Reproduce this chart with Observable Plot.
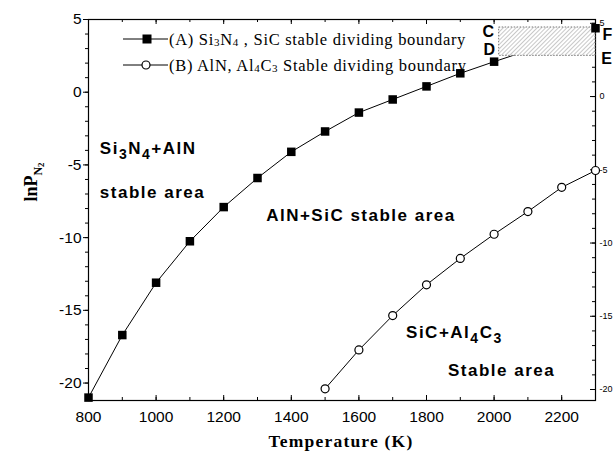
<!DOCTYPE html>
<html><head><meta charset="utf-8">
<script src="https://cdn.jsdelivr.net/npm/d3@7"></script>
<script src="https://cdn.jsdelivr.net/npm/@observablehq/plot@0.6"></script>
<style>body{margin:0;background:#fff}#chart{position:relative;width:614px;height:457px}</style>
</head><body><div id="chart"></div>
<script>
// ---- data ----
const tempA = [800, 900, 1000, 1100, 1200, 1300, 1400, 1500, 1600, 1700, 1800, 1900, 2000, 2300];
const lnA   = [-21, -16.7, -13.1, -10.25, -7.9, -5.9, -4.1, -2.7, -1.4, -0.5, 0.4, 1.3, 2.1, 4.4];
const tempB = [1500, 1600, 1700, 1800, 1900, 2000, 2100, 2200, 2300];
const lnB   = [-19.95, -17.3, -14.95, -12.85, -11.05, -9.4, -7.85, -6.2, -5.05]; // read on right axis
const xTickLabels = [800, 1000, 1200, 1400, 1600, 1800, 2000, 2200];
const yTickLabels = [-20, -15, -10, -5, 0, 5];
const rightTickLabels = [-20, -15, -10, -5, 0, 5];
const boxX = [2015, 2300];
const boxY = [2.5, 4.45];
const cornerLabels = ["C", "D", "E", "F"];
const legendLabels = ["(A)", "(B)"];

// ---- scales ----
const xDomain = [800, 2300];
const yDomain = [-21.2, 5];
const rightDomain = [-20.75, 5.26];
const toLeft = r => yDomain[0] + (r - rightDomain[0]) / (rightDomain[1] - rightDomain[0]) * (yDomain[1] - yDomain[0]);

const W = 614, H = 457, mL = 88, mR = 19, mT = 19, mB = 57;
const pW = W - mL - mR, pH = H - mT - mB;
const SANS = "'Liberation Sans', Arial, sans-serif";
const SERIF = "'Liberation Serif', 'Times New Roman', serif";

const seriesA = tempA.map((t, i) => ({t, v: lnA[i]}));
const seriesB = tempB.map((t, i) => ({t, v: toLeft(lnB[i])}));
const box = [{x1: boxX[0], x2: boxX[1], y1: boxY[0], y2: boxY[1]}];
const corners = [
  {l: cornerLabels[0], x: boxX[0], y: boxY[1], dx: -11, dy: 4},
  {l: cornerLabels[1], x: boxX[0], y: boxY[0], dx: -10, dy: -6},
  {l: cornerLabels[2], x: boxX[1], y: boxY[0], dx: 11, dy: 3},
  {l: cornerLabels[3], x: boxX[1], y: boxY[1], dx: 12, dy: 7}
];

const xAll = d3.range(800, 2301, 100);
const yAll = d3.range(-21, 6, 1);
const rAll = d3.range(-20, 6, 1);

const chart = Plot.plot({
  width: W, height: H,
  marginLeft: mL, marginRight: mR, marginTop: mT, marginBottom: mB,
  x: {domain: xDomain},
  y: {domain: yDomain},
  style: {fontFamily: SANS, background: "white", color: "black"},
  marks: [
    Plot.frame({stroke: "black", strokeWidth: 1.2}),
    Plot.axisX(xTickLabels, {tickSize: 0, tickPadding: 10, fontSize: 15.5, label: null, tickFormat: d => String(d)}),
    Plot.tickX(xAll, {x: d => d, insetTop: pH - 3, stroke: "black"}),
    Plot.tickX(xTickLabels, {x: d => d, insetTop: pH - 5, stroke: "black"}),
    Plot.tickX(xAll, {x: d => d, insetBottom: pH - 3, stroke: "black"}),
    Plot.tickX(xTickLabels, {x: d => d, insetBottom: pH - 5, stroke: "black"}),
    Plot.axisY(yTickLabels, {tickSize: 5, tickPadding: 2, fontSize: 15.5, label: null, tickFormat: d => String(d)}),
    Plot.axisY(yAll, {tickSize: 3, tickFormat: () => "", label: null}),
    Plot.tickY(rAll.map(toLeft), {y: d => d, insetLeft: pW - 3, stroke: "black"}),
    Plot.tickY(rightTickLabels.map(toLeft), {y: d => d, insetLeft: pW - 5, stroke: "black"}),
    Plot.text(rightTickLabels, {y: d => toLeft(d), text: d => String(d), frameAnchor: "right", dx: 4, textAnchor: "start", fontSize: 9}),
    Plot.line(seriesA, {x: "t", y: "v", stroke: "black", strokeWidth: 1}),
    Plot.rect(box, {x1: "x1", x2: "x2", y1: "y1", y2: "y2", fill: "white"}),
    Plot.rect(box, {x1: "x1", x2: "x2", y1: "y1", y2: "y2", fill: "url(#hatch)", stroke: "#777", strokeWidth: 1, strokeDasharray: "1.5,1.5"}),
    Plot.dot(seriesA, {x: "t", y: "v", symbol: "square", r: 4.8, fill: "black", stroke: "none"}),
    Plot.line(seriesB, {x: "t", y: "v", stroke: "black", strokeWidth: 1}),
    Plot.dot(seriesB, {x: "t", y: "v", symbol: "circle", r: 4, fill: "white", stroke: "black", strokeWidth: 1.2}),
    ...corners.map(c => Plot.text([c], {x: "x", y: "y", text: "l", dx: c.dx, dy: c.dy, fontSize: 16, fontWeight: "bold", clip: false}))
  ]
});

const svg = d3.select(chart);
// hatch pattern
const defs = svg.insert("defs", ":first-child");
const pat = defs.append("pattern").attr("id", "hatch").attr("patternUnits", "userSpaceOnUse")
  .attr("width", 3).attr("height", 3).attr("patternTransform", "rotate(45)");
pat.append("line").attr("x1", 0).attr("y1", 0).attr("x2", 0).attr("y2", 3).attr("stroke", "#999").attr("stroke-width", 1.1);

const sxObj = chart.scale("x"), syObj = chart.scale("y");
const sx = sxObj && sxObj.apply ? sxObj.apply : d3.scaleLinear(xDomain, [mL, W - mR]);
const sy = syObj && syObj.apply ? syObj.apply : d3.scaleLinear(yDomain, [H - mB, mT]);

// rich text: parts are strings (baseline) or {s, size, off} (off = baseline offset, px)
function rich(g, x, y, parts, opts) {
  const t = g.append("text").attr("x", x).attr("y", y)
    .attr("font-family", opts.family).attr("font-size", opts.size)
    .attr("font-weight", opts.weight || "normal").attr("letter-spacing", opts.ls || 0)
    .attr("text-anchor", opts.anchor || "start")
    .attr("fill", "black");
  if (opts.transform) t.attr("transform", opts.transform);
  let cur = 0;
  for (const p of parts) {
    const q = typeof p === "string" ? {s: p, size: opts.size, off: 0} : p;
    const ts = t.append("tspan").attr("font-size", q.size).text(q.s);
    if (q.off !== cur) { ts.attr("dy", q.off - cur); cur = q.off; }
  }
  return t;
}
const ann = svg.append("g");
const big = {family: SANS, size: 17, weight: "bold", ls: 1.5};
const sub = s => ({s, size: 14, off: 5});
rich(ann, sx(835), sy(-4.28), ["Si", sub("3"), "N", sub("4"), "+AlN"], big);
rich(ann, sx(835), sy(-7.31), ["stable area"], big);
rich(ann, sx(1327), sy(-8.89), ["AlN+SiC stable area"], big);
rich(ann, sx(1741), sy(-16.94), ["SiC+Al", sub("4"), "C", sub("3")], big);
rich(ann, sx(1865), sy(-19.55), ["Stable area"], big);

// legend
const lg = svg.append("g");
const rows = [{y: 39, sym: "square"}, {y: 65, sym: "circle"}];
rows.forEach(r => {
  lg.append("line").attr("x1", 123).attr("x2", 168).attr("y1", r.y).attr("y2", r.y).attr("stroke", "black");
  if (r.sym === "square") lg.append("rect").attr("x", 142.5).attr("y", r.y - 4.5).attr("width", 9).attr("height", 9).attr("fill", "black");
  else lg.append("circle").attr("cx", 146).attr("cy", r.y).attr("r", 4).attr("fill", "white").attr("stroke", "black").attr("stroke-width", 1.2);
});
const leg = {family: SERIF, size: 16.5, ls: 0.7};
const ls = s => ({s, size: 11, off: 1});
rich(lg, 169, 45, [legendLabels[0] + " Si", ls("3"), "N", ls("4"), " , SiC stable dividing boundary"], leg);
rich(lg, 169, 71, [legendLabels[1] + " AlN, Al", ls("4"), "C", ls("3"), " Stable dividing boundary"], leg);

// axis titles
rich(svg, 341, 447, ["Temperature (K)"], {family: SERIF, size: 17.5, weight: "bold", ls: 1.2, anchor: "middle"});
rich(svg, 0, 0, ["lnP", {s: "N", size: 12, off: 5}, {s: "2", size: 9, off: 7}],
  {family: SERIF, size: 18, weight: "bold", anchor: "middle", transform: "translate(37,182) rotate(-90)"});

document.getElementById("chart").appendChild(chart);
</script></body></html>
